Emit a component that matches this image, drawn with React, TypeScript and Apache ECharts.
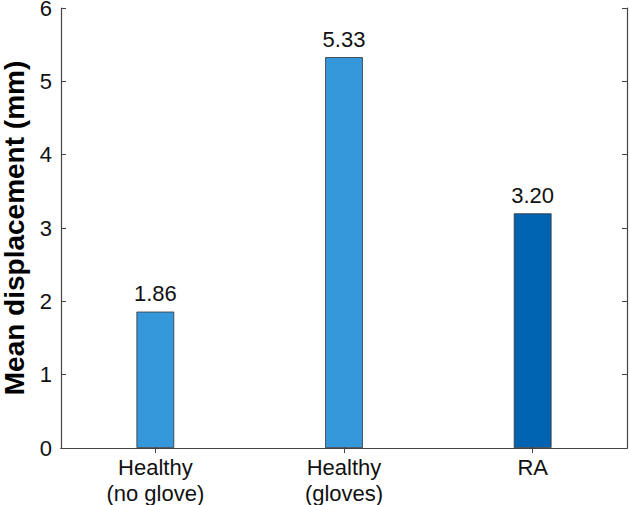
import React, { useEffect, useRef } from "react";
import * as echarts from "echarts";

const categories = ["Healthy\n(no glove)", "Healthy\n(gloves)", "RA"];
const values = [1.86, 5.33, 3.2];
const barColors = ["#3498DB", "#3498DB", "#0063B1"];
const yTicks = [0, 1, 2, 3, 4, 5, 6];

export default function App() {
  const ref = useRef<HTMLDivElement>(null);
  useEffect(() => {
    if (!ref.current) return;
    const chart = echarts.init(ref.current, null, { renderer: "svg" });
    const axisColor = "#444444";
    const font = "Liberation Sans, Arial, sans-serif";
    chart.setOption({
      animation: false,
      grid: { left: 61, right: 3, top: 8, bottom: 57, containLabel: false, outerBoundsMode: "none" },
      xAxis: [
        {
          type: "category",
          data: categories,
          position: "bottom",
          axisLine: { show: true, lineStyle: { color: axisColor, width: 1.2 } },
          axisTick: { show: true, inside: true, alignWithLabel: true, length: 5, lineStyle: { color: axisColor } },
          axisLabel: { color: "#111", fontSize: 22, fontFamily: font, lineHeight: 26, margin: 6 },
          splitLine: { show: false },
        },
        {
          type: "category",
          data: categories,
          position: "top",
          axisLine: { show: true, lineStyle: { color: axisColor, width: 1.2 } },
          axisTick: { show: true, inside: true, alignWithLabel: true, length: 5, lineStyle: { color: axisColor } },
          axisLabel: { show: false },
          splitLine: { show: false },
        },
      ],
      yAxis: [
        {
          type: "value",
          min: yTicks[0],
          max: yTicks[yTicks.length - 1],
          interval: 1,
          position: "left",
          name: "Mean displacement (mm)",
          nameLocation: "middle",
          nameGap: 30,
          nameTextStyle: { fontSize: 28, lineHeight: 28, fontWeight: "bold", color: "#000", fontFamily: font },
          axisLine: { show: true, lineStyle: { color: axisColor, width: 1.2 } },
          axisTick: { show: true, inside: true, length: 5, lineStyle: { color: axisColor } },
          axisLabel: { color: "#111", fontSize: 22, lineHeight: 12, padding: [4, 0, 0, 0], fontFamily: font, margin: 9 },
          splitLine: { show: false },
        },
        {
          type: "value",
          min: yTicks[0],
          max: yTicks[yTicks.length - 1],
          interval: 1,
          position: "right",
          axisLine: { show: true, lineStyle: { color: axisColor, width: 1.2 } },
          axisTick: { show: true, inside: true, length: 5, lineStyle: { color: axisColor } },
          axisLabel: { show: false },
          splitLine: { show: false },
        },
      ],
      series: [
        {
          type: "bar",
          xAxisIndex: 0,
          yAxisIndex: 0,
          barWidth: "20%",
          data: values.map((v, i) => ({
            value: v,
            itemStyle: { color: barColors[i], borderColor: "#333", borderWidth: 0.8 },
          })),
          label: {
            show: true,
            position: "top",
            distance: 7,
            fontSize: 22,
            fontFamily: font,
            color: "#111",
            formatter: (p: any) => Number(p.value).toFixed(2),
          },
        },
      ],
    });
    return () => chart.dispose();
  }, []);
  return <div ref={ref} style={{ width: 630, height: 505, position: "absolute", left: 0, top: 0, background: "#fff" }} />;
}
